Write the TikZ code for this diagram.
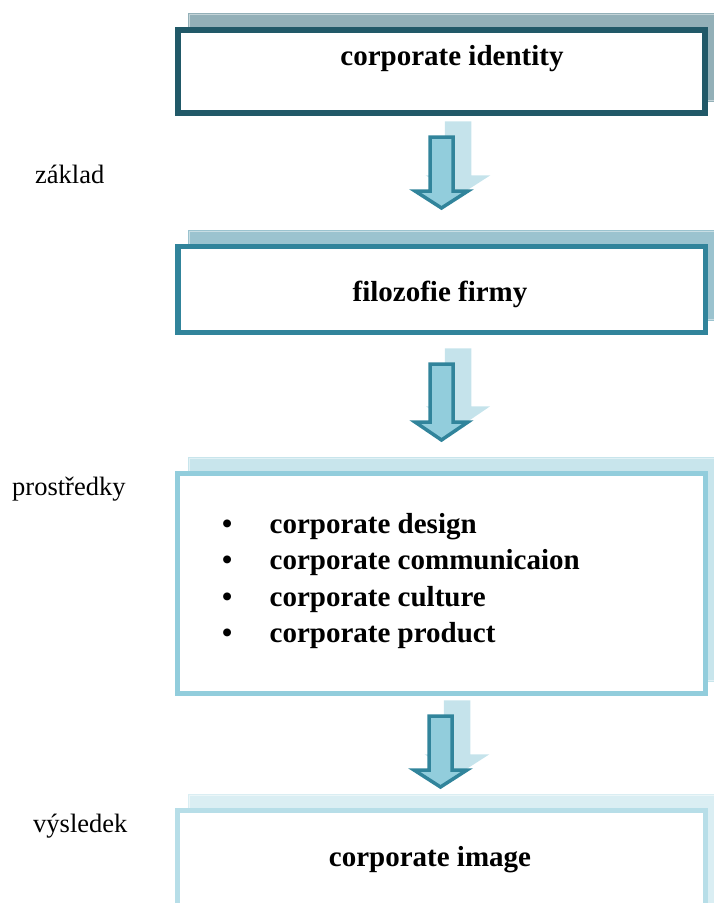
\documentclass[tikz,border=0pt]{standalone}
\usepackage{fontspec}
\setmainfont{Liberation Serif}
\usetikzlibrary{backgrounds}

\definecolor{frameA}{HTML}{215968}
\definecolor{shadeA}{HTML}{93B0B8}
\definecolor{frameB}{HTML}{31849B}
\definecolor{shadeB}{HTML}{9BC3CF}
\definecolor{frameC}{HTML}{92CDDC}
\definecolor{shadeC}{HTML}{C8E5EC}
\definecolor{frameD}{HTML}{B7DEE8}
\definecolor{shadeD}{HTML}{DAEEF3}
\definecolor{arrowfill}{HTML}{92CDDC}
\definecolor{arrowline}{HTML}{31849B}
\definecolor{arrowshade}{HTML}{C5E3EB}

% outline of a block arrow: shaft top centre at the origin
\def\arrowoutline#1#2{(-11.5,0) -- (11.5,0) -- (11.5,#1) -- (26.5,#1) -- (0,#2) -- (-26.5,#1) -- (-11.5,#1) -- cycle}

\tikzset{
  framebox/.style={draw, rectangle, fill=white, inner sep=0pt},
  boxtitle/.style={anchor=base, inner sep=0pt, font=\fontsize{29}{35}\selectfont\bfseries},
  itemtext/.style={anchor=base west, inner sep=0pt, font=\fontsize{29}{35}\selectfont\bfseries},
  sidelabel/.style={anchor=base west, inner sep=0pt, font=\fontsize{26.5}{32}\selectfont},
  pics/blockarrow/.style n args={2}{code={
    \begin{scope}[shift={(16.5,-14)}]
      \filldraw[arrowshade, line width=3.5] \arrowoutline{#1}{#2};
    \end{scope}
    \filldraw[fill=arrowfill, draw=arrowline, line width=3.5] \arrowoutline{#1}{#2};
  }}
}

% offset shadow behind a framed box
\newcommand\boxshadow[2]{%
  \begin{scope}[on background layer]
    \fill[#2] ([shift={(13,-14)}]#1.north west) rectangle ([shift={(13,-14)}]#1.south east);
    \draw[#2!55!white, line width=0.8] ([shift={(14.8,-12.2)}]#1.north west) rectangle ([shift={(11.2,-15.8)}]#1.south east);
  \end{scope}}

\begin{document}
\begin{tikzpicture}[x=1pt, y=-1pt]
  \useasboundingbox (0,0) rectangle (713,903);
  \clip (0,0) rectangle (713,903);

  % framed boxes
  \node[framebox, draw=frameA, line width=6, minimum width=527, minimum height=83] (box1) at (441.5,71.5) {};
  \node[framebox, draw=frameB, line width=5.5, minimum width=527.5, minimum height=86] (box2) at (441.5,289.25) {};
  \node[framebox, draw=frameC, line width=5, minimum width=528, minimum height=220] (box3) at (441.5,583.5) {};
  \node[framebox, draw=frameD, line width=5, minimum width=528, minimum height=147] (box4) at (441.5,884) {};

  \boxshadow{box1}{shadeA}
  \boxshadow{box2}{shadeB}
  \boxshadow{box3}{shadeC}
  \boxshadow{box4}{shadeD}

  % titles
  \node[boxtitle] (t1) at (452,65.8) {corporate identity};
  \node[boxtitle] (t2) at (440,301) {filozofie firmy};
  \node[boxtitle] (t4) at (430,866) {corporate image};

  % list of means
  \node[itemtext] (b1) at (222,533)   {\textbullet};
  \node[itemtext] (b2) at (222,569.5) {\textbullet};
  \node[itemtext] (b3) at (222,606)   {\textbullet};
  \node[itemtext] (b4) at (222,642.5) {\textbullet};
  \node[itemtext] (i1) at (269.5,533)   {corporate design};
  \node[itemtext] (i2) at (269.5,569.5) {corporate communicaion};
  \node[itemtext] (i3) at (269.5,606)   {corporate culture};
  \node[itemtext] (i4) at (269.5,642.5) {corporate product};

  % side labels
  \node[sidelabel] (l1) at (35,183) {základ};
  \node[sidelabel] (l2) at (12,495) {prostředky};
  \node[sidelabel] (l3) at (33,832) {výsledek};

  % block arrows between the boxes
  \coordinate (a1) at (441.5,137);
  \coordinate (a2) at (441.5,364);
  \coordinate (a3) at (440.5,716);
  \pic at (a1) {blockarrow={54}{71}};
  \pic at (a2) {blockarrow={58}{76}};
  \pic at (a3) {blockarrow={54}{71}};
\end{tikzpicture}
\end{document}
